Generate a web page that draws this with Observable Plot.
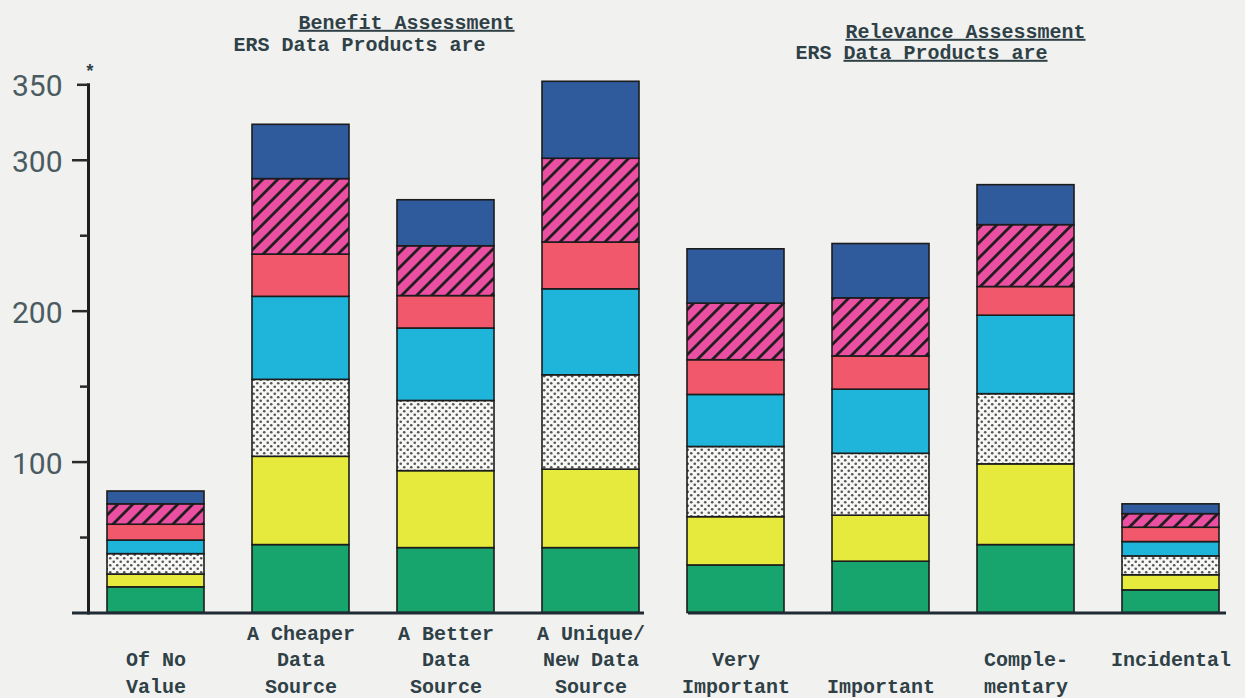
<!DOCTYPE html>
<html>
<head>
<meta charset="utf-8">
<script src="https://cdn.jsdelivr.net/npm/d3@7"></script>
<script src="https://cdn.jsdelivr.net/npm/@observablehq/plot@0.6"></script>
<style>
  html, body { margin: 0; padding: 0; background: #f1f1f0; }
  #chart { width: 1245px; height: 698px; }
</style>
</head>
<body>
<div id="chart"></div>
<script>
// ---- data ----
const categories = [
  "Of No Value", "A Cheaper Data Source", "A Better Data Source", "A Unique/New Data Source",
  "Very Important", "Important", "Complementary", "Incidental"
];
const tickLabels = [
  "\nOf No\nValue", "A Cheaper\nData\nSource", "A Better\nData\nSource", "A Unique/\nNew Data\nSource",
  "\nVery\nImportant", "\n\nImportant", "\nComple-\nmentary", "\nIncidental"
];
const seriesNames = ["Segment 1", "Segment 2", "Segment 3", "Segment 4", "Segment 5", "Segment 6", "Segment 7"];
// bottom to top
const segment1 = [17, 45, 43, 43, 31.5, 34, 45, 15];
const segment2 = [8.5, 58.5, 51, 52, 32, 30.5, 53.5, 10];
const segment3 = [13.5, 51, 46.5, 62.5, 46.5, 41, 46.5, 12.5];
const segment4 = [9, 55, 48, 57, 34.5, 42.5, 52, 9.5];
const segment5 = [10.5, 28, 21.5, 31, 23, 22, 19, 9.5];
const segment6 = [13.5, 50, 33, 55.5, 37.5, 38.5, 41, 9];
const segment7 = [8.5, 36, 30.5, 51, 36, 36, 26.5, 6.5];
const yLabelTicks = [100, 200, 300, 350];
const yMajorTicks = [100, 200, 300];
const yMinorTicks = [50, 150, 250];
const titleLeft1 = "Benefit Assessment";
const titleLeft2 = "ERS Data Products are";
const titleRight1 = "Relevance Assessment";
const titleRight2a = "ERS";
const titleRight2b = "Data Products are";

const allSeries = [segment1, segment2, segment3, segment4, segment5, segment6, segment7];
const table = [];
categories.forEach((c, i) => {
  allSeries.forEach((s, j) => table.push({category: c, series: seriesNames[j], value: s[i]}));
});
const baselines = [
  {y: 0, from: categories[0], to: categories[3]},
  {y: 0, from: categories[4], to: categories[7]}
];

const palette = ["#17a56d", "#e5ea3d", "url(#dots)", "#1fb4d9", "#f2586b", "url(#hatch)", "#2f5a9b"];
const mono = "'Liberation Mono', 'DejaVu Sans Mono', monospace";
const ink = "#2f4146";
const titleStyle = {frameAnchor: "top-left", textAnchor: "start", lineAnchor: "bottom",
  fontFamily: mono, fontWeight: "bold", fontSize: 20, fill: ink};

const svg = Plot.plot({
  width: 1245,
  height: 698,
  marginLeft: 88,
  marginRight: 8,
  marginTop: 84.3,
  marginBottom: 85.5,
  style: {background: "transparent", overflow: "visible"},
  x: {domain: categories, paddingInner: 0.333, paddingOuter: 0.117},
  y: {domain: [0, 350]},
  color: {domain: seriesNames, range: palette},
  marks: [
    Plot.barY(table, {x: "category", y: "value", fill: "series", stroke: "#1c1c1c", strokeWidth: 1.6}),
    Plot.frame({anchor: "left", stroke: "#1e1e1e", strokeWidth: 3}),
    Plot.ruleY(baselines.slice(0, 1), {y: "y", x1: "from", x2: "to", insetLeft: -35, insetRight: -5, stroke: "#1f2a33", strokeWidth: 3}),
    Plot.ruleY(baselines.slice(1), {y: "y", x1: "from", x2: "to", insetLeft: 1, insetRight: -7, stroke: "#1f2a33", strokeWidth: 3}),
    Plot.axisY({ticks: yMajorTicks, tickSize: 16, tickFormat: () => "", label: null, stroke: "#2a2a2a", strokeWidth: 2.5}),
    Plot.axisY({ticks: yMinorTicks, tickSize: 8, tickFormat: () => "", label: null, stroke: "#2a2a2a", strokeWidth: 2.5}),
    Plot.axisY({ticks: [350], tickSize: 11, tickFormat: () => "", label: null, stroke: "#2a2a2a", strokeWidth: 2.5}),
    Plot.axisY({ticks: yLabelTicks, tickSize: 0, tickPadding: 26, dy: 2, label: null,
      fontFamily: "Roboto, 'Noto Sans', sans-serif", fontWeight: 400,
      fontSize: 30, fill: "#4a5b61", tickFormat: d => String(d)}),
    Plot.text([350], {y: d => d, frameAnchor: "left", text: () => "*", dx: -4, dy: -14,
      fontSize: 18, fontFamily: mono, fontWeight: "bold", fill: ink}),
    Plot.axisX({tickSize: 0, tickPadding: 8, lineAnchor: "top", lineHeight: 1.32, label: null,
      tickFormat: d => tickLabels[categories.indexOf(d)],
      fontFamily: mono, fontWeight: "bold", fontSize: 20, fill: ink}),
    Plot.text([titleLeft1], {...titleStyle, text: d => d, dx: 210, dy: -56}),
    Plot.text([titleLeft2], {...titleStyle, text: d => d, dx: 145, dy: -34}),
    Plot.text([titleRight1], {...titleStyle, text: d => d, dx: 757, dy: -47}),
    Plot.text([titleRight2a], {...titleStyle, text: d => d, dx: 707, dy: -26}),
    Plot.text([titleRight2b], {...titleStyle, text: d => d, dx: 755, dy: -26})
  ]
});

const defs = d3.select(svg).insert("defs", ":first-child");
const hatch = defs.append("pattern").attr("id", "hatch").attr("patternUnits", "userSpaceOnUse")
  .attr("width", 10.6).attr("height", 10.6).attr("patternTransform", "rotate(45)");
hatch.append("rect").attr("width", 10.6).attr("height", 10.6).attr("fill", "#ea4fa2");
hatch.append("line").attr("x1", 5.3).attr("y1", -1).attr("x2", 5.3).attr("y2", 11.6)
  .attr("stroke", "#1a1a1a").attr("stroke-width", 2.7);
const dots = defs.append("pattern").attr("id", "dots").attr("patternUnits", "userSpaceOnUse")
  .attr("width", 7).attr("height", 7);
dots.append("rect").attr("width", 7).attr("height", 7).attr("fill", "#f7f7f6");
dots.append("circle").attr("cx", 1.75).attr("cy", 1.75).attr("r", 1.3).attr("fill", "#555");
dots.append("circle").attr("cx", 5.25).attr("cy", 5.25).attr("r", 1.3).attr("fill", "#555");

const underlined = [titleLeft1, titleRight1, titleRight2b];
d3.select(svg).selectAll("text").filter(function () { return underlined.includes(this.textContent); })
  .style("text-decoration", "underline");

document.getElementById("chart").appendChild(svg);
</script>
</body>
</html>
